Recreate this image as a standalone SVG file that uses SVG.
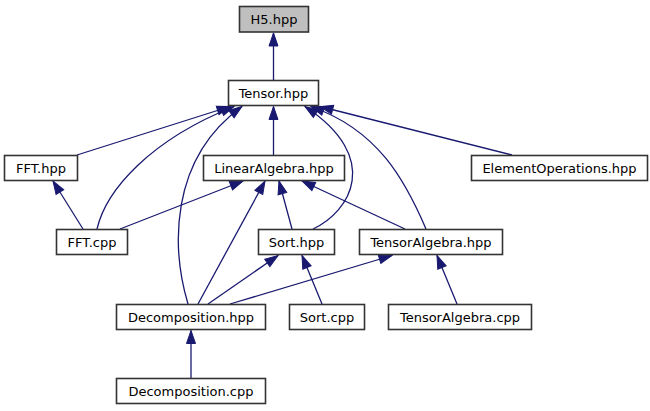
<svg xmlns="http://www.w3.org/2000/svg" width="650" height="411" viewBox="0 0 650 411">
<style>
.n rect{fill:#fff;stroke:#333;stroke-width:1.6}
.n text{font-family:"DejaVu Sans",sans-serif;font-size:13px;fill:#000;text-anchor:middle}
.e path{fill:none;stroke:#191970;stroke-width:1.3;marker-end:url(#ah)}
</style>
<defs>
<marker id="ah" markerUnits="userSpaceOnUse" markerWidth="14" markerHeight="11" refX="13" refY="5" orient="auto" viewBox="0 0 14 11" overflow="visible">
<path d="M0,0.5 L13,5 L0,9.5 z" fill="#191970" stroke="#191970" stroke-width="1"/>
</marker>
</defs>
<g id="connectors" class="e">
<path d="M273.5,80 L273.5,33"/>
<path d="M77,155 L230,106.5"/>
<path d="M97,229 C106,190 150,140 234,106.5"/>
<path d="M188,304 C172,250 168,160 242,106.5"/>
<path d="M273.5,155 L273.5,106.5"/>
<path d="M313,229 C350,212 383,158 305,106.5"/>
<path d="M426,229 C405,180 378,130 311,106.5"/>
<path d="M512,155 L320,106.5"/>
<path d="M83,229 L53,181"/>
<path d="M120,229 L243,181"/>
<path d="M198,304 L265,181"/>
<path d="M292,229 L279,181"/>
<path d="M405,229 L302,181"/>
<path d="M208,304 L278,255.5"/>
<path d="M230,304 L392,255.5"/>
<path d="M322,304 L302,255.5"/>
<path d="M457,304 L437,255.5"/>
<path d="M191,378 L191,330.5"/>
</g>
<g id="H5" class="n"><rect x="239.5" y="6.5" width="69" height="25.5" style="fill:#bfbfbf"/><text x="274" y="23.5">H5.hpp</text></g>
<g id="Tensor" class="n"><rect x="228.5" y="80.5" width="90" height="25"/><text x="273.5" y="97.5">Tensor.hpp</text></g>
<g id="FFThpp" class="n"><rect x="4.5" y="155.5" width="73" height="25"/><text x="41" y="172.5">FFT.hpp</text></g>
<g id="LinearAlgebra" class="n"><rect x="203.5" y="155.5" width="141" height="25"/><text x="274" y="172.5">LinearAlgebra.hpp</text></g>
<g id="ElementOperations" class="n"><rect x="471.5" y="155.5" width="176" height="25"/><text x="559.5" y="172.5">ElementOperations.hpp</text></g>
<g id="FFTcpp" class="n"><rect x="56.5" y="229.5" width="71" height="25"/><text x="92" y="246.5">FFT.cpp</text></g>
<g id="Sorthpp" class="n"><rect x="258.5" y="229.5" width="76" height="25"/><text x="296.5" y="246.5">Sort.hpp</text></g>
<g id="TensorAlgebrahpp" class="n"><rect x="359.5" y="229.5" width="143" height="25"/><text x="431" y="246.5">TensorAlgebra.hpp</text></g>
<g id="Decompositionhpp" class="n"><rect x="116.5" y="304.5" width="149" height="25"/><text x="191" y="321.5">Decomposition.hpp</text></g>
<g id="Sortcpp" class="n"><rect x="289.5" y="304.5" width="75" height="25"/><text x="327" y="321.5">Sort.cpp</text></g>
<g id="TensorAlgebracpp" class="n"><rect x="388.5" y="304.5" width="143" height="25"/><text x="460" y="321.5">TensorAlgebra.cpp</text></g>
<g id="Decompositioncpp" class="n"><rect x="116.5" y="378.5" width="149" height="25"/><text x="191" y="395.5">Decomposition.cpp</text></g>
</svg>
